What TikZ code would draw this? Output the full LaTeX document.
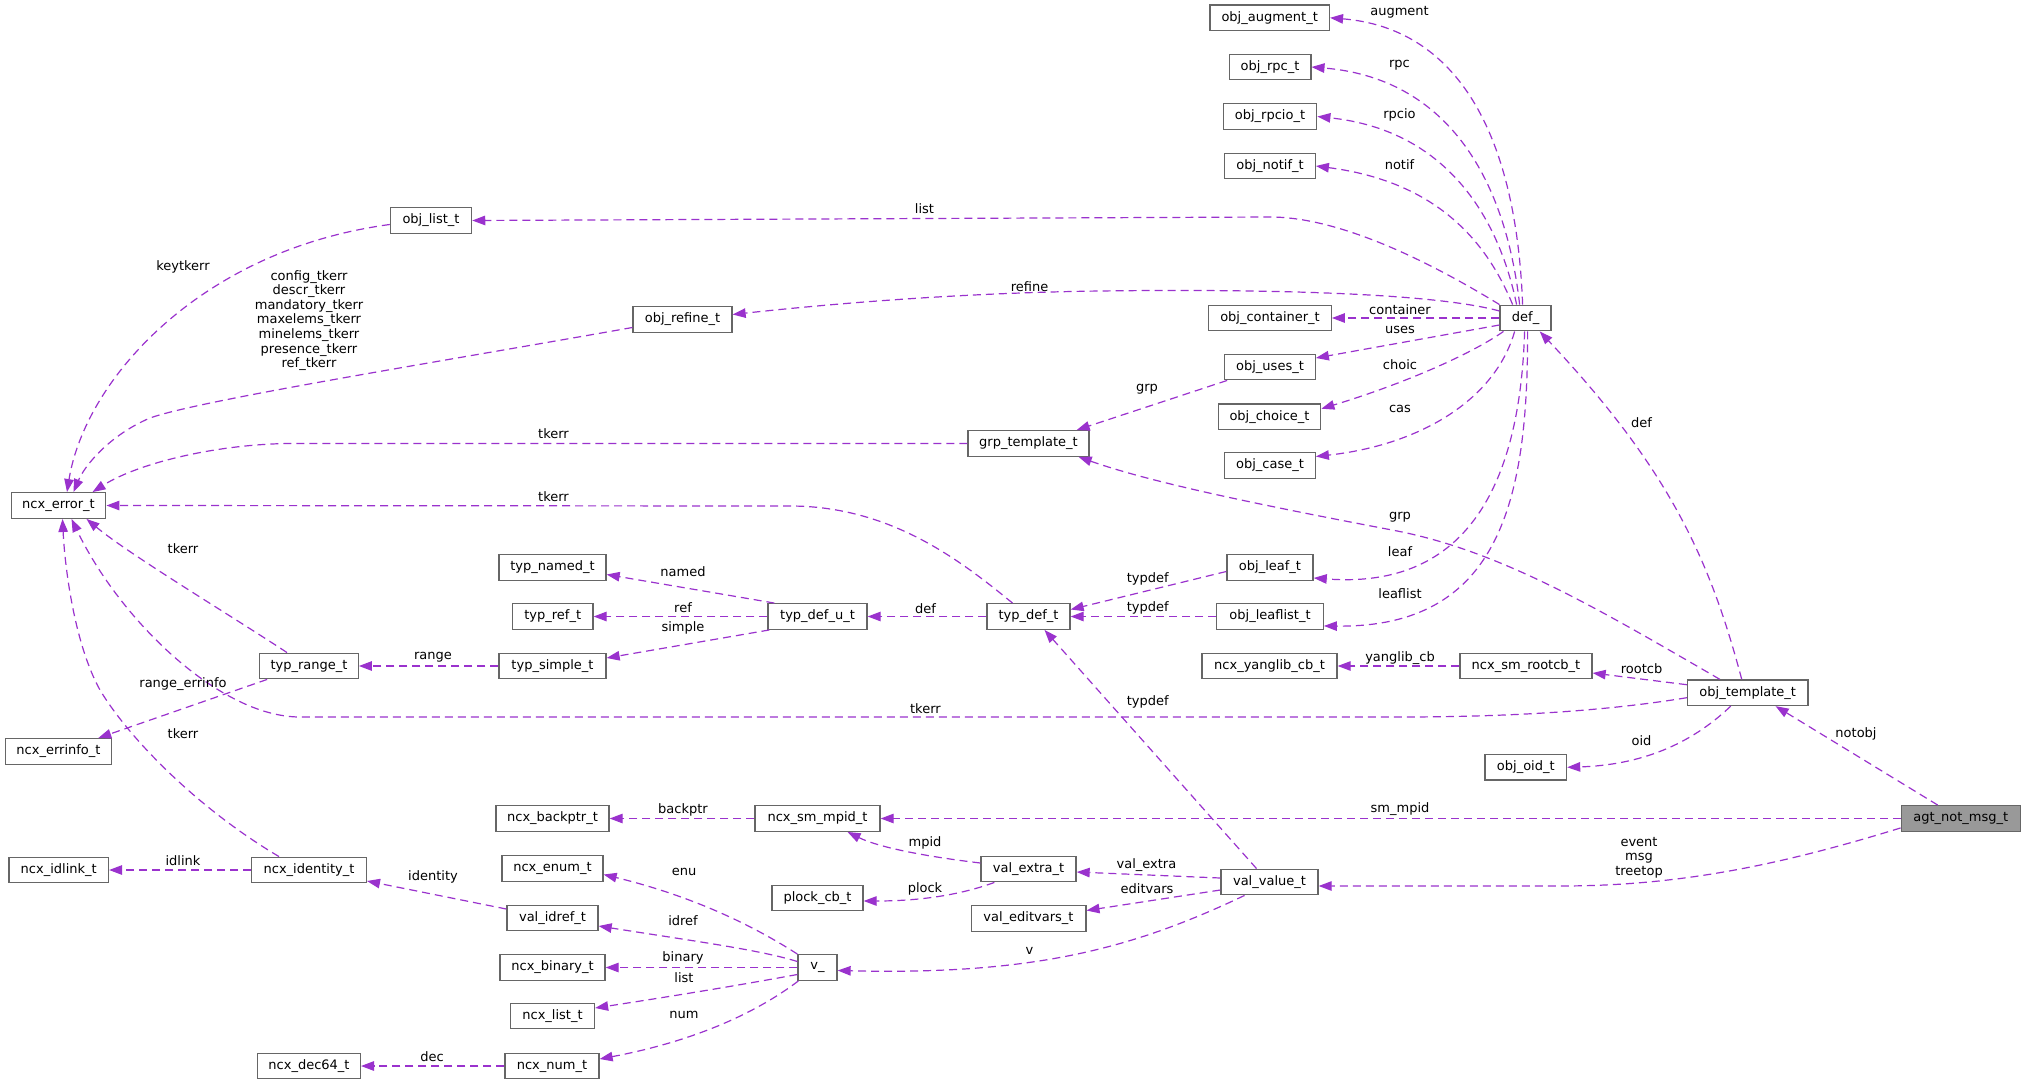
\documentclass[tikz,border=0pt]{standalone}
\usepackage{fontspec}
\setmainfont{DejaVu Sans}
\usetikzlibrary{arrows.meta,calc}
\definecolor{edgec}{HTML}{9A32CD}
\definecolor{boxc}{HTML}{666666}
\definecolor{focusc}{HTML}{999999}
\newcommand{\fs}{\fontsize{13}{14.6}\selectfont}
\begin{document}
\begin{tikzpicture}[x=1pt,y=-1pt,
  box/.style={draw=boxc, line width=1.3pt, fill=white, minimum height=25.6pt, inner sep=0pt, font=\fs},
  focus/.style={box, fill=focusc},
  edge/.style={draw=edgec, line width=1.2pt, dash pattern=on 8pt off 5pt, -{Triangle[length=13pt,width=9.5pt]}},
  lbl/.style={font=\fs, inner sep=0pt, align=center, text=black}]
\useasboundingbox (0,0) rectangle (2025,1084);
% nodes
\node[box, minimum width=119.4] (augment) at (1269.7,17.8) {obj\_augment\_t};
\node[box, minimum width=81.7] (rpc) at (1270,67) {obj\_rpc\_t};
\node[box, minimum width=93.5] (rpcio) at (1270,116.5) {obj\_rpcio\_t};
\node[box, minimum width=90.5] (notif) at (1270,166) {obj\_notif\_t};
\node[box, minimum width=81.2] (objlist) at (431,220.5) {obj\_list\_t};
\node[box, minimum width=99] (refine) at (682.5,319.5) {obj\_refine\_t};
\node[box, minimum width=122.5] (container) at (1270,318) {obj\_container\_t};
\node[box, minimum width=51] (def) at (1525.6,318) {def\_};
\node[box, minimum width=90.5] (uses) at (1270,367) {obj\_uses\_t};
\node[box, minimum width=102.5] (choice) at (1269.5,416.7) {obj\_choice\_t};
\node[box, minimum width=121] (grp) at (1028.5,443.5) {grp\_template\_t};
\node[box, minimum width=90.5] (case) at (1270,465.5) {obj\_case\_t};
\node[box, minimum width=94.6] (ncxerr) at (58.5,505.5) {ncx\_error\_t};
\node[box, minimum width=107] (named) at (552.5,567.5) {typ\_named\_t};
\node[box, minimum width=86.2] (leaf) at (1270,567.5) {obj\_leaf\_t};
\node[box, minimum width=80.5] (tref) at (552.7,616.5) {typ\_ref\_t};
\node[box, minimum width=99] (defu) at (817.5,616.5) {typ\_def\_u\_t};
\node[box, minimum width=83] (tdef) at (1028.5,616.5) {typ\_def\_t};
\node[box, minimum width=106.5] (leaflist) at (1270,616.5) {obj\_leaflist\_t};
\node[box, minimum width=98.5] (range) at (309,666) {typ\_range\_t};
\node[box, minimum width=107] (simple) at (552.5,666) {typ\_simple\_t};
\node[box, minimum width=135] (yanglib) at (1269.5,666) {ncx\_yanglib\_cb\_t};
\node[box, minimum width=132] (rootcb) at (1526,666) {ncx\_sm\_rootcb\_t};
\node[box, minimum width=120.5] (otmpl) at (1747.7,692.7) {obj\_template\_t};
\node[box, minimum width=106.2] (errinfo) at (58.5,751.5) {ncx\_errinfo\_t};
\node[box, minimum width=81.5] (oid) at (1525.8,767.3) {obj\_oid\_t};
\node[box, minimum width=113] (backptr) at (552.5,818.5) {ncx\_backptr\_t};
\node[box, minimum width=125] (smmpid) at (817.5,818.5) {ncx\_sm\_mpid\_t};
\node[focus, minimum width=119] (agt) at (1960.7,818.5) {agt\_not\_msg\_t};
\node[box, minimum width=99.5] (idlink) at (58.7,870) {ncx\_idlink\_t};
\node[box, minimum width=114.7] (identity) at (309,870) {ncx\_identity\_t};
\node[box, minimum width=101] (enum) at (552.5,868.5) {ncx\_enum\_t};
\node[box, minimum width=95] (vextra) at (1028.5,869) {val\_extra\_t};
\node[box, minimum width=97] (vvalue) at (1269.5,882) {val\_value\_t};
\node[box, minimum width=91] (plock) at (817.5,898) {plock\_cb\_t};
\node[box, minimum width=91] (idref) at (552.5,918) {val\_idref\_t};
\node[box, minimum width=114.7] (editvars) at (1028.5,918.5) {val\_editvars\_t};
\node[box, minimum width=105] (binary) at (552.5,967.5) {ncx\_binary\_t};
\node[box, minimum width=39] (vu) at (817.5,967.5) {v\_};
\node[box, minimum width=84] (nlist) at (552.5,1016) {ncx\_list\_t};
\node[box, minimum width=102.7] (dec64) at (309,1066) {ncx\_dec64\_t};
\node[box, minimum width=94] (num) at (552,1066) {ncx\_num\_t};
% edges from def_
\draw[edge] ($(def.north)+(-3,0)$) .. controls (1516,130) and (1455,28) .. (augment.east);
\draw[edge] ($(def.north)+(-6,0)$) .. controls (1505,175) and (1445,78) .. (rpc.east);
\draw[edge] ($(def.north)+(-9,0)$) .. controls (1498,215) and (1445,130) .. (rpcio.east);
\draw[edge] ($(def.north)+(-13,0)$) .. controls (1488,245) and (1440,182) .. (notif.east);
\draw[edge] (def.north west) .. controls (1430,262) and (1340,217) .. (1270,217) -- (objlist.east);
\draw[edge] ($(def.west)+(0,-7)$) .. controls (1430,292) and (1250,289) .. (1100,291) .. controls (950,293) and (820,305) .. ($(refine.east)+(0,-5)$);
\draw[edge] (def.west) -- (container.east);
\draw[edge] ($(def.west)+(0,7)$) -- ($(uses.east)+(0,-9)$);
\draw[edge] ($(def.south west)+(4,0)$) .. controls (1470,355) and (1400,385) .. ($(choice.east)+(0,-8)$);
\draw[edge] ($(def.south)+(-11,0)$) .. controls (1495,400) and (1420,445) .. ($(case.east)+(0,-9)$);
\draw[edge] ($(def.south)+(-1,0)$) .. controls (1520,480) and (1470,590) .. ($(leaf.south east)+(0,-3)$);
\draw[edge] ($(def.south)+(2,0)$) .. controls (1528,500) and (1500,628) .. ($(leaflist.south east)+(0,-4)$);
% edges to ncx_error_t
\draw[edge] ($(objlist.west)+(0,4)$) .. controls (200,250) and (85,380) .. ($(ncxerr.north)+(8.5,0)$);
\draw[edge] ($(refine.west)+(0,8)$) .. controls (450,360) and (200,400) .. (150,418) .. controls (110,435) and (85,465) .. ($(ncxerr.north)+(15,0)$);
\draw[edge] (grp.west) -- (290,443.5) .. controls (220,444) and (140,462) .. ($(ncxerr.north)+(34,0)$);
\draw[edge] ($(tdef.north)+(-16,0)$) .. controls (960,560) and (890,506) .. (790,506) -- (ncxerr.east);
\draw[edge] ($(range.north)+(-22,0)$) .. controls (230,615) and (130,555) .. ($(ncxerr.south)+(28,0)$);
\draw[edge] ($(otmpl.west)+(0,5)$) .. controls (1600,712) and (1500,717) .. (1400,717) -- (300,717) .. controls (220,717) and (120,620) .. ($(ncxerr.south)+(13,0)$);
\draw[edge] ($(identity.north)+(-30,0)$) .. controls (200,810) and (130,740) .. (100,690) .. controls (75,645) and (65,570) .. ($(ncxerr.south)+(4,0)$);
% grp_template_t
\draw[edge] ($(uses.south west)+(3,0)$) -- ($(grp.north east)+(-13,0)$);
\draw[edge] ($(otmpl.north)+(-28,0)$) .. controls (1600,610) and (1500,550) .. (1392,530) .. controls (1250,503) and (1150,482) .. ($(grp.south east)+(-11,0)$);
% obj_template_t
\draw[edge] ($(otmpl.north)+(-6,0)$) .. controls (1710,560) and (1670,470) .. ($(def.south east)+(-12,0)$);
\draw[edge] ($(otmpl.west)+(0,-8)$) -- ($(rootcb.east)+(0,7)$);
\draw[edge] ($(otmpl.south)+(-17,0)$) .. controls (1690,745) and (1640,765) .. (oid.east);
\draw[edge] (rootcb.west) -- (yanglib.east);
% typ_def_t
\draw[edge] ($(leaf.west)+(0,4)$) -- ($(tdef.east)+(0,-7)$);
\draw[edge] (leaflist.west) -- (tdef.east);
\draw[edge] ($(vvalue.north)+(-13,0)$) -- ($(tdef.south)+(16,0)$);
\draw[edge] (tdef.west) -- (defu.east);
\draw[edge] ($(defu.north west)+(7,0)$) -- ($(named.east)+(0,7)$);
\draw[edge] (defu.west) -- (tref.east);
\draw[edge] ($(defu.south west)+(2,0)$) -- ($(simple.east)+(0,-8)$);
\draw[edge] (simple.west) -- (range.east);
\draw[edge] ($(range.south west)+(8,0)$) -- ($(errinfo.north east)+(-14,0)$);
\draw[edge] (identity.west) -- (idlink.east);
\draw[edge] ($(idref.west)+(0,-9)$) -- ($(identity.east)+(0,11)$);
% agt_not_msg_t
\draw[edge] ($(agt.north)+(-23,0)$) -- ($(otmpl.south east)+(-33,0)$);
\draw[edge] (agt.west) -- (smmpid.east);
\draw[edge] ($(agt.south west)+(0,-4)$) .. controls (1780,865) and (1680,886) .. (1560,886) -- ($(vvalue.east)+(0,4)$);
\draw[edge] (smmpid.west) -- (backptr.east);
% val_*
\draw[edge] ($(vextra.west)+(0,-6)$) .. controls (930,857) and (880,848) .. ($(smmpid.south)+(30,0)$);
\draw[edge] ($(vextra.south west)+(14,0)$) .. controls (960,895) and (920,901) .. ($(plock.east)+(0,3)$);
\draw[edge] ($(vvalue.west)+(0,-4)$) -- ($(vextra.east)+(0,3)$);
\draw[edge] ($(vvalue.west)+(0,8)$) -- ($(editvars.east)+(0,-8)$);
\draw[edge] ($(vvalue.south)+(-25,0)$) .. controls (1130,950) and (1030,975) .. ($(vu.east)+(0,3)$);
% v_
\draw[edge] (vu.north west) .. controls (760,930) and (700,898) .. ($(enum.east)+(0,6)$);
\draw[edge] ($(vu.west)+(0,-6)$) .. controls (760,950) and (700,942) .. ($(idref.east)+(0,8)$);
\draw[edge] (vu.west) -- (binary.east);
\draw[edge] ($(vu.west)+(0,7)$) .. controls (740,985) and (680,995) .. ($(nlist.east)+(0,-8)$);
\draw[edge] ($(vu.south west)+(1,0)$) .. controls (760,1010) and (700,1040) .. ($(num.east)+(0,-7)$);
\draw[edge] (num.west) -- (dec64.east);
% labels
\node[lbl] (l1) at (1399.5,12.7) {augment};
\node[lbl] (l2) at (1399.5,65) {rpc};
\node[lbl] (l3) at (1399.5,115) {rpcio};
\node[lbl] (l4) at (1399.5,164.7) {notif};
\node[lbl] (l5) at (924.5,208.3) {list};
\node[lbl] (l6) at (1029.5,286.7) {refine};
\node[lbl] (l7) at (1400,310) {container};
\node[lbl] (l8) at (1400,330) {uses};
\node[lbl] (l9) at (1400,364.3) {choic};
\node[lbl] (l10) at (1400,409) {cas};
\node[lbl] (l11) at (1641.5,422.3) {def};
\node[lbl] (l12) at (183,267) {keytkerr};
\node[lbl] (l13) at (309,320.5) {config\_tkerr\\descr\_tkerr\\mandatory\_tkerr\\maxelems\_tkerr\\minelems\_tkerr\\presence\_tkerr\\ref\_tkerr};
\node[lbl] (l14) at (553.5,434) {tkerr};
\node[lbl] (l15) at (553.5,497) {tkerr};
\node[lbl] (l16) at (183,549) {tkerr};
\node[lbl] (l17) at (1147,389) {grp};
\node[lbl] (l18) at (1400,517.7) {grp};
\node[lbl] (l19) at (1400,551.7) {leaf};
\node[lbl] (l20) at (1400,593.3) {leaflist};
\node[lbl] (l21) at (683,572) {named};
\node[lbl] (l22) at (1147.7,578.7) {typdef};
\node[lbl] (l23) at (1147.7,608.3) {typdef};
\node[lbl] (l24) at (925.4,608.3) {def};
\node[lbl] (l25) at (683,608) {ref};
\node[lbl] (l26) at (683,628) {simple};
\node[lbl] (l27) at (433,657.7) {range};
\node[lbl] (l28) at (1400,657.7) {yanglib\_cb};
\node[lbl] (l29) at (1641.5,668.3) {rootcb};
\node[lbl] (l30) at (183,684) {range\_errinfo};
\node[lbl] (l31) at (1147.7,701.8) {typdef};
\node[lbl] (l32) at (925.4,708.3) {tkerr};
\node[lbl] (l33) at (183,734) {tkerr};
\node[lbl] (l34) at (1641.5,741) {oid};
\node[lbl] (l35) at (1856,734.3) {notobj};
\node[lbl] (l36) at (683,810) {backptr};
\node[lbl] (l37) at (1400,809.3) {sm\_mpid};
\node[lbl] (l38) at (925,842.7) {mpid};
\node[lbl] (l39) at (1639,857.7) {event\\msg\\treetop};
\node[lbl] (l40) at (183,861) {idlink};
\node[lbl] (l41) at (1146.4,865) {val\_extra};
\node[lbl] (l42) at (433,877) {identity};
\node[lbl] (l43) at (684,872) {enu};
\node[lbl] (l44) at (925,889) {plock};
\node[lbl] (l45) at (1147,889) {editvars};
\node[lbl] (l46) at (683,920.7) {idref};
\node[lbl] (l47) at (1029.4,951) {v};
\node[lbl] (l48) at (683,958) {binary};
\node[lbl] (l49) at (684,978) {list};
\node[lbl] (l50) at (684,1015) {num};
\node[lbl] (l51) at (432,1057) {dec};
\end{tikzpicture}
\end{document}
